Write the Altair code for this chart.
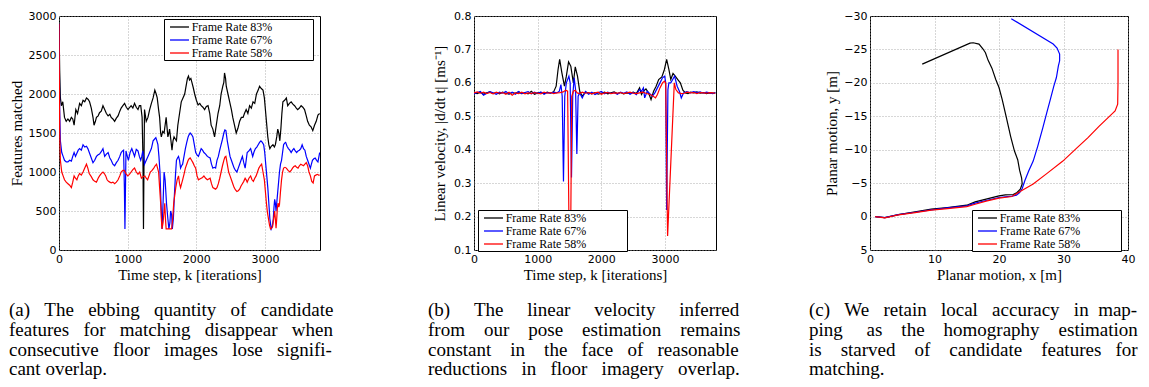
import altair as alt
import pandas as pd

SERIES = ["Frame Rate 83%", "Frame Rate 67%", "Frame Rate 58%"]
COLORS = ["#000000", "#0000ff", "#ff0000"]

# ---------- (a) features matched: (time step k, features) ----------
FEAT_83 = [(0,2900),(10,2300),(20,1950),(35,1850),(55,1900),(80,1700),(105,1650),(130,1680),(155,1650),(180,1700),(200,1680),(220,1600),(245,1800),(270,1750),(300,1880),(325,1850),(350,1920),(375,1900),(400,1950),(425,1930),(445,1900),(470,1820),(495,1700),(510,1600),(530,1650),(545,1700),(570,1720),(590,1760),(615,1780),(640,1850),(665,1800),(690,1750),(715,1720),(740,1740),(760,1700),(785,1680),(810,1650),(835,1690),(860,1720),(885,1780),(905,1820),(930,1850),(955,1880),(980,1830),(1005,1800),(1030,1830),(1050,1850),(1075,1820),(1100,1880),(1125,1830),(1150,1800),(1170,1850),(1190,1850),(1210,1700),(1222,1200),(1230,270),(1238,1200),(1245,1800),(1270,1650),(1295,1700),(1320,1800),(1345,1880),(1370,1950),(1395,2050),(1415,2000),(1430,1950),(1450,1800),(1465,1700),(1480,1500),(1490,1450),(1510,1520),(1530,1500),(1545,1600),(1560,1700),(1575,1550),(1585,1450),(1600,1500),(1610,1550),(1630,1400),(1645,1280),(1660,1400),(1675,1450),(1695,1420),(1710,1400),(1730,1600),(1755,1750),(1780,1900),(1805,1950),(1830,2000),(1850,2100),(1870,2200),(1885,2230),(1900,2180),(1920,2200),(1935,2150),(1955,2080),(1975,2000),(2000,1920),(2025,1860),(2050,1880),(2070,1850),(2095,1830),(2120,1800),(2145,1840),(2170,1850),(2195,1750),(2215,1600),(2240,1550),(2265,1450),(2290,1600),(2315,1750),(2340,1850),(2360,2000),(2385,2100),(2400,2150),(2410,2270),(2425,2200),(2435,2100),(2460,2000),(2485,1900),(2510,1800),(2530,1700),(2555,1600),(2580,1500),(2605,1560),(2630,1650),(2655,1700),(2680,1700),(2700,1750),(2725,1800),(2750,1750),(2775,1850),(2800,1820),(2825,1900),(2850,1880),(2875,2000),(2900,2050),(2920,2100),(2945,2070),(2970,2050),(2990,1950),(3010,1750),(3025,1600),(3040,1450),(3055,1350),(3070,1300),(3090,1330),(3115,1350),(3135,1320),(3150,1350),(3170,1450),(3185,1550),(3200,1500),(3215,1400),(3230,1550),(3245,1750),(3260,1900),(3285,1920),(3310,1950),(3330,1850),(3355,1880),(3380,1900),(3405,1870),(3430,1850),(3455,1820),(3475,1800),(3500,1820),(3525,1850),(3550,1830),(3575,1800),(3600,1720),(3620,1650),(3645,1600),(3670,1580),(3695,1530),(3720,1600),(3745,1650),(3770,1730),(3795,1750)]

FEAT_67 = [(0,2900),(10,1800),(20,1400),(40,1250),(60,1200),(80,1150),(105,1130),(130,1130),(155,1150),(180,1140),(200,1200),(220,1250),(240,1200),(260,1240),(280,1280),(300,1300),(325,1280),(350,1350),(375,1320),(400,1330),(420,1300),(445,1240),(470,1180),(495,1120),(520,1150),(545,1200),(570,1220),(590,1230),(615,1260),(640,1300),(665,1200),(690,1230),(715,1250),(740,1180),(760,1150),(785,1100),(810,1080),(835,1120),(860,1150),(885,1200),(905,1250),(925,1270),(940,1280),(952,800),(960,270),(968,800),(975,1270),(995,1200),(1010,1150),(1035,1250),(1060,1300),(1080,1250),(1100,1200),(1125,1290),(1150,1270),(1170,1200),(1190,1150),(1205,1200),(1220,1270),(1235,1180),(1245,1100),(1270,1150),(1295,1200),(1320,1250),(1345,1300),(1370,1400),(1390,1420),(1410,1440),(1425,1400),(1440,1350),(1455,1200),(1470,1000),(1485,600),(1500,270),(1515,600),(1530,1000),(1545,900),(1565,600),(1585,400),(1600,270),(1615,350),(1625,500),(1640,450),(1650,270),(1665,400),(1680,700),(1695,950),(1710,1150),(1725,1180),(1740,1200),(1755,1150),(1770,1050),(1785,1080),(1800,1100),(1820,1200),(1840,1300),(1860,1380),(1880,1450),(1895,1480),(1910,1500),(1930,1480),(1950,1450),(1970,1350),(1990,1250),(2010,1220),(2030,1200),(2050,1250),(2070,1300),(2090,1280),(2110,1250),(2135,1230),(2160,1200),(2180,1190),(2200,1180),(2220,1100),(2240,1050),(2260,1060),(2280,1050),(2300,1150),(2320,1200),(2340,1280),(2360,1350),(2380,1420),(2400,1500),(2415,1540),(2430,1530),(2450,1400),(2470,1300),(2490,1200),(2510,1150),(2530,1100),(2550,1050),(2570,1020),(2590,1000),(2610,1050),(2630,1100),(2650,1150),(2670,1200),(2690,1120),(2710,1050),(2725,1150),(2740,1250),(2765,1270),(2790,1300),(2805,1250),(2820,1200),(2840,1260),(2860,1300),(2880,1320),(2900,1350),(2920,1380),(2940,1400),(2960,1380),(2980,1350),(2995,1250),(3010,1100),(3025,950),(3040,800),(3055,600),(3070,400),(3090,270),(3105,300),(3120,400),(3130,550),(3140,650),(3150,600),(3160,500),(3170,600),(3180,700),(3195,850),(3210,1000),(3225,1100),(3240,1150),(3255,1250),(3270,1350),(3285,1370),(3300,1380),(3320,1330),(3340,1300),(3360,1280),(3380,1250),(3400,1280),(3420,1300),(3440,1270),(3460,1250),(3480,1270),(3500,1280),(3520,1300),(3540,1350),(3560,1300),(3580,1280),(3600,1200),(3620,1150),(3640,1100),(3660,1050),(3675,1100),(3690,1150),(3710,1170),(3730,1180),(3750,1150),(3770,1130),(3785,1200),(3795,1250)]

FEAT_58 = [(0,2900),(10,1500),(20,1150),(40,1000),(60,950),(80,900),(105,870),(130,850),(155,830),(180,800),(200,870),(220,950),(240,920),(260,900),(280,950),(300,980),(325,960),(350,1000),(375,1050),(400,1100),(420,1050),(440,980),(470,940),(495,900),(520,880),(545,870),(570,920),(590,950),(615,980),(640,1000),(660,980),(680,950),(700,900),(720,880),(740,870),(760,860),(785,870),(810,850),(835,870),(860,900),(885,950),(905,1000),(930,1020),(950,1020),(975,980),(1000,950),(1025,970),(1050,1000),(1075,1030),(1100,1050),(1125,1000),(1150,970),(1175,1000),(1200,920),(1225,940),(1250,950),(1270,920),(1290,900),(1310,950),(1330,1000),(1355,1020),(1380,1050),(1400,1080),(1420,1100),(1435,1050),(1450,1000),(1465,800),(1480,600),(1490,400),(1500,270),(1515,350),(1530,500),(1540,600),(1550,400),(1560,270),(1580,270),(1600,270),(1620,270),(1640,270),(1655,400),(1670,600),(1685,700),(1700,800),(1720,900),(1740,950),(1755,850),(1770,800),(1785,850),(1800,900),(1820,970),(1840,1050),(1860,1100),(1880,1150),(1895,1170),(1910,1180),(1930,1150),(1950,1120),(1970,1080),(1990,1050),(2010,950),(2030,900),(2050,910),(2070,920),(2090,930),(2110,950),(2135,920),(2160,900),(2180,910),(2200,920),(2220,850),(2240,800),(2260,790),(2280,780),(2300,800),(2320,850),(2340,920),(2360,1000),(2380,1080),(2400,1150),(2415,1190),(2430,1200),(2450,1100),(2470,1000),(2490,950),(2510,900),(2530,850),(2550,800),(2570,770),(2590,750),(2610,760),(2630,780),(2650,820),(2670,850),(2690,880),(2710,920),(2725,900),(2740,870),(2765,920),(2790,950),(2810,900),(2830,880),(2850,920),(2870,950),(2890,1000),(2910,1050),(2930,1080),(2950,1100),(2970,1000),(2990,900),(3005,750),(3020,600),(3035,480),(3050,400),(3065,320),(3080,270),(3095,280),(3110,300),(3125,400),(3140,500),(3150,400),(3160,280),(3170,400),(3180,550),(3190,600),(3200,550),(3210,580),(3225,750),(3240,900),(3255,1000),(3270,1050),(3290,1060),(3310,1050),(3335,1020),(3360,1000),(3380,1020),(3400,1050),(3420,1070),(3440,1080),(3460,1060),(3480,1050),(3500,1080),(3520,1100),(3540,1090),(3560,1080),(3580,1100),(3600,1120),(3620,1080),(3640,1000),(3660,950),(3680,880),(3700,860),(3720,950),(3740,960),(3760,970),(3780,960),(3795,960)]

# ---------- (b) linear velocity: (time step k, m/s) ----------
VEL_83 = [(0,0.570),(50,0.568),(100,0.572),(150,0.566),(200,0.570),(250,0.573),(300,0.568),(350,0.571),(400,0.567),(450,0.572),(500,0.569),(550,0.566),(600,0.571),(650,0.569),(700,0.573),(750,0.568),(800,0.570),(850,0.567),(900,0.575),(950,0.566),(1000,0.570),(1050,0.571),(1100,0.568),(1150,0.572),(1200,0.569),(1250,0.573),(1290,0.590),(1320,0.640),(1345,0.670),(1380,0.630),(1420,0.590),(1450,0.620),(1485,0.663),(1520,0.650),(1560,0.600),(1590,0.648),(1625,0.620),(1660,0.575),(1700,0.560),(1750,0.572),(1800,0.570),(1850,0.567),(1900,0.571),(1950,0.566),(2000,0.569),(2050,0.572),(2100,0.567),(2150,0.570),(2200,0.573),(2250,0.568),(2300,0.571),(2350,0.567),(2400,0.570),(2450,0.569),(2500,0.572),(2550,0.568),(2600,0.585),(2630,0.565),(2660,0.575),(2700,0.582),(2740,0.570),(2780,0.550),(2820,0.575),(2860,0.590),(2900,0.610),(2950,0.618),(2990,0.640),(3025,0.670),(3060,0.640),(3090,0.610),(3125,0.628),(3160,0.620),(3200,0.610),(3240,0.600),(3280,0.578),(3320,0.570),(3360,0.568),(3400,0.572),(3450,0.570),(3500,0.573),(3550,0.569),(3600,0.571),(3650,0.568),(3700,0.570),(3750,0.569),(3790,0.570)]

VEL_67 = [(0,0.567),(50,0.571),(100,0.574),(150,0.563),(200,0.569),(250,0.574),(300,0.570),(350,0.566),(400,0.572),(450,0.569),(500,0.574),(550,0.567),(600,0.572),(650,0.566),(700,0.574),(750,0.568),(800,0.571),(850,0.574),(900,0.567),(950,0.572),(1000,0.568),(1050,0.573),(1100,0.566),(1150,0.571),(1200,0.569),(1250,0.572),(1300,0.570),(1340,0.575),(1365,0.595),(1385,0.560),(1405,0.305),(1425,0.560),(1450,0.600),(1490,0.620),(1510,0.600),(1531,0.317),(1550,0.560),(1573,0.615),(1595,0.580),(1615,0.387),(1635,0.560),(1660,0.570),(1700,0.555),(1750,0.574),(1800,0.566),(1850,0.572),(1900,0.565),(1950,0.570),(2000,0.574),(2050,0.567),(2100,0.572),(2150,0.568),(2200,0.571),(2250,0.566),(2300,0.572),(2350,0.569),(2400,0.573),(2450,0.566),(2500,0.571),(2550,0.565),(2600,0.580),(2630,0.575),(2660,0.585),(2680,0.555),(2720,0.575),(2760,0.568),(2800,0.560),(2840,0.570),(2880,0.585),(2920,0.600),(2960,0.615),(2995,0.620),(3010,0.600),(3025,0.220),(3045,0.580),(3060,0.600),(3090,0.600),(3120,0.610),(3150,0.620),(3190,0.590),(3225,0.575),(3255,0.555),(3290,0.570),(3340,0.574),(3400,0.570),(3450,0.574),(3500,0.571),(3550,0.573),(3600,0.569),(3650,0.572),(3700,0.570),(3750,0.568),(3790,0.571)]

VEL_58 = [(0,0.570),(50,0.573),(100,0.569),(150,0.572),(200,0.568),(250,0.571),(300,0.567),(350,0.572),(400,0.569),(450,0.571),(500,0.566),(550,0.572),(600,0.563),(650,0.570),(700,0.568),(750,0.572),(800,0.567),(850,0.570),(900,0.568),(950,0.571),(1000,0.569),(1050,0.567),(1100,0.572),(1150,0.569),(1200,0.571),(1250,0.568),(1300,0.570),(1350,0.571),(1400,0.573),(1440,0.578),(1470,0.575),(1490,0.200),(1505,0.180),(1520,0.200),(1535,0.560),(1560,0.575),(1590,0.578),(1620,0.570),(1660,0.568),(1700,0.572),(1750,0.569),(1800,0.571),(1850,0.567),(1900,0.570),(1950,0.572),(2000,0.566),(2050,0.570),(2100,0.571),(2150,0.568),(2200,0.570),(2250,0.569),(2300,0.571),(2350,0.568),(2400,0.570),(2450,0.572),(2500,0.569),(2550,0.568),(2600,0.570),(2650,0.572),(2700,0.569),(2750,0.566),(2800,0.562),(2850,0.555),(2880,0.565),(2920,0.585),(2960,0.600),(2990,0.605),(3010,0.600),(3040,0.142),(3145,0.600),(3170,0.580),(3210,0.570),(3260,0.568),(3300,0.569),(3350,0.572),(3400,0.570),(3450,0.571),(3500,0.568),(3550,0.571),(3600,0.570),(3650,0.569),(3700,0.571),(3750,0.570),(3790,0.569)]

# ---------- (c) planar motion: (x [m], y [m]) in travel order ----------
PATH_83 = [(0.8,0.0),(2.3,0.15),(4.4,-0.3),(7,-0.7),(9.5,-1.1),(12,-1.35),(15,-1.7),(16.3,-2.2),(18,-2.6),(20,-3.1),(21,-3.25),(22.2,-3.3),(22.8,-3.6),(23.3,-4.1),(23.6,-4.9),(23.5,-5.8),(23.2,-6.9),(22.9,-8.5),(22.4,-9.8),(21.8,-12),(21.1,-15),(20.5,-17.5),(20.0,-19.3),(19.5,-20.5),(18.9,-22.2),(18.3,-23.4),(17.9,-24.5),(17.5,-25.1),(16.9,-25.8),(16.0,-26.0),(15.5,-25.95),(8.1,-22.8)]
PATH_67 = [(0.8,0.0),(2.3,0.15),(4.4,-0.3),(7,-0.65),(9.5,-1.0),(12,-1.3),(15,-1.6),(16.3,-2.0),(18,-2.4),(20,-2.85),(22,-3.05),(22.7,-3.2),(23.2,-3.6),(23.6,-4.2),(24.0,-5.35),(24.6,-6.8),(25.3,-8.3),(26,-10.5),(26.8,-13.3),(27.4,-15.5),(27.9,-17.3),(28.5,-19.5),(28.9,-20.8),(29.2,-22.5),(29.4,-23.3),(29.4,-24.3),(29.0,-25.2),(28.4,-25.8),(21.9,-29.6)]
PATH_58 = [(0.8,0.0),(2.3,0.2),(4.4,-0.25),(7,-0.6),(9.5,-0.95),(12,-1.2),(15,-1.5),(16.3,-1.85),(18,-2.3),(20,-2.75),(22,-3.0),(23,-3.6),(25.3,-4.86),(27.5,-6.5),(29.9,-8.3),(32,-10.2),(33.8,-11.8),(35.5,-13.5),(37.2,-15.06),(38.0,-15.8),(38.4,-16.8),(38.45,-20),(38.45,-25)]

CAPTION_A = ["(a) The ebbing quantity of candidate",
             "features for matching disappear when",
             "consecutive floor images lose signifi-",
             "cant overlap."]
CAPTION_B = ["(b) The linear velocity inferred",
             "from our pose estimation remains",
             "constant in the face of reasonable",
             "reductions in floor imagery overlap."]
CAPTION_C = ["(c) We retain local accuracy in map-",
             "ping as the homography estimation",
             "is starved of candidate features for",
             "matching."]

SERIF = "'Liberation Serif', 'Times New Roman', Times, serif"
SANS = "'DejaVu Sans', sans-serif"
CAP_FS = 19
NBSP = "\u00a0"
# trailing non-breaking spaces widen the legend box; the zero-width space stops trimming
LEGEND_PAD = NBSP * 13 + "\u200b"

# Times-Roman advance widths (1/1000 em) used to justify caption lines
TIMES_W = {" ": 250, "(": 333, ")": 333, "-": 333, ".": 250, ",": 250,
           "a": 444, "b": 500, "c": 444, "d": 500, "e": 444, "f": 333,
           "g": 500, "h": 500, "i": 278, "j": 278, "k": 500, "l": 278,
           "m": 778, "n": 500, "o": 500, "p": 500, "q": 500, "r": 333,
           "s": 389, "t": 278, "u": 500, "v": 500, "w": 722, "x": 500,
           "y": 500, "z": 444, "T": 611, "W": 944}


def justify(line, width):
    words = line.split(" ")
    gaps = len(words) - 1
    natural = sum(TIMES_W.get(ch, 500) for ch in line) * CAP_FS / 1000.0
    step = 0.25 * CAP_FS
    total = max(0, int(round((width - natural) / step)))
    out = words[0]
    for g in range(gaps):
        n = total // gaps + (1 if g < total % gaps else 0)
        out += " " + NBSP * n + words[g + 1]
    return out


def caption(lines, width, last_justified=False):
    res = [justify(l, width) for l in lines[:-1]]
    res.append(justify(lines[-1], width) if last_justified else lines[-1])
    return res


def frame(series_lists):
    rows = []
    for name, pts in zip(SERIES, series_lists):
        for i, (a, b) in enumerate(pts):
            rows.append({"a": a, "b": b, "series": name, "i": i})
    return pd.DataFrame(rows)


def legend(lx, ly):
    return alt.Legend(title=None, orient="none", legendX=lx, legendY=ly,
                      symbolType="M-0.33,0H2.83", symbolSize=144,
                      symbolStrokeWidth=1.3,
                      labelFont=SERIF, labelFontSize=12, labelColor="black",
                      labelOffset=12.7, strokeColor="black", fillColor="white",
                      padding=1, rowPadding=0, cornerRadius=0,
                      labelExpr="datum.label + '" + LEGEND_PAD + "'")


def panel(df, xscale, yscale, xaxis, yaxis, leg, width, cap, dx):
    return alt.Chart(df).mark_line(strokeWidth=1.2, clip=True).encode(
        x=alt.X("a:Q", scale=xscale, axis=xaxis),
        y=alt.Y("b:Q", scale=yscale, axis=yaxis),
        color=alt.Color("series:N", sort=SERIES,
                        scale=alt.Scale(domain=SERIES, range=COLORS),
                        legend=leg),
        order=alt.Order("i:Q"),
    ).properties(
        width=width, height=234,
        title=alt.TitleParams(text=cap, orient="bottom", anchor="start",
                              frame="group", dx=dx, offset=19, baseline="top",
                              font=SERIF, fontSize=CAP_FS, fontWeight="normal",
                              lineHeight=19.8, color="black"))


def ax(title, values, pad, fmt="d"):
    return alt.Axis(title=title, values=values, titlePadding=pad, format=fmt,
                    labelFlush=False)


p1 = panel(frame([FEAT_83, FEAT_67, FEAT_58]),
           alt.Scale(domain=[0, 3800], nice=False),
           alt.Scale(domain=[0, 3000], nice=False),
           ax("Time step, k [iterations]", [0, 1000, 2000, 3000], 3),
           ax("Features matched", [0, 500, 1000, 1500, 2000, 2500, 3000], 4),
           legend(105, 3), 261, caption(CAPTION_A, 324), -50)

p2 = panel(frame([VEL_83, VEL_67, VEL_58]),
           alt.Scale(domain=[0, 3800], nice=False),
           alt.Scale(domain=[0.1, 0.8], nice=False, zero=False),
           ax("Time step, k [iterations]", [0, 1000, 2000, 3000], 3),
           ax("Linear velocity, |d/dt t| [ms\u207b\u00b9]",
              [0.1, 0.2, 0.3, 0.4, 0.5, 0.6, 0.7, 0.8], 6, ".1f"),
           legend(4, 194), 242, caption(CAPTION_B, 313, True), -46)

p3 = panel(frame([PATH_83, PATH_67, PATH_58]),
           alt.Scale(domain=[0, 40], nice=False),
           alt.Scale(domain=[-30, 5], nice=False, reverse=True, zero=False),
           ax("Planar motion, x [m]", [0, 10, 20, 30, 40], 3),
           ax("Planar motion, y [m]", [-30, -25, -20, -15, -10, -5, 0, 5], 4),
           legend(102, 194), 258, caption(CAPTION_C, 329), -61)

chart = (
    alt.hconcat(p1, p2, p3, spacing=154, bounds="flush")
    .resolve_scale(color="independent")
    .resolve_legend(color="independent")
    .properties(padding={"left": 0, "top": 1, "right": 2, "bottom": 2},
                background="white")
    .configure_view(stroke="black", strokeWidth=1)
    .configure_axis(grid=True, gridColor="#9a9a9a", gridDash=[1, 2],
                    gridWidth=0.8, domain=False, ticks=False,
                    labelFont=SANS, labelFontSize=11, labelColor="black",
                    labelPadding=3, titleFont=SERIF, titleFontSize=15,
                    titleFontWeight="normal", titleColor="black")
)

chart.save("out.html", embed_options={"renderer": "svg", "actions": False})
